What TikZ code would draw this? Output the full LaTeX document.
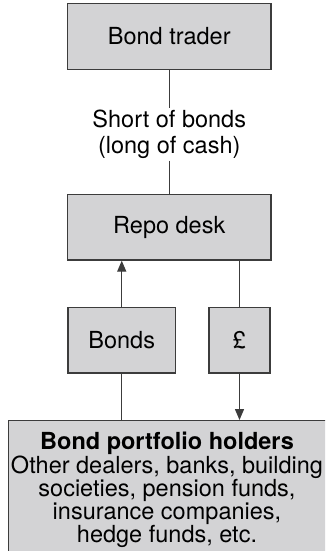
\documentclass[tikz,border=0pt]{standalone}
\usepackage{fontspec}
\setmainfont{TeX Gyre Heros}
\usetikzlibrary{arrows.meta}
\definecolor{boxfill}{HTML}{D3D3D5}
\definecolor{boxline}{HTML}{3C3C3C}
\begin{document}
\begin{tikzpicture}[x=1pt,y=-1pt,
  box/.style={draw=boxline, fill=boxfill, line width=1.3pt, inner sep=0pt,
    font=\fontsize{23.5}{25}\selectfont},
  lbl/.style={inner sep=0pt, align=center, font=\fontsize{23.5}{25.5}\selectfont},
  conn/.style={draw=boxline, line width=1.3pt},
  arr/.style={conn, -{Triangle[length=11pt,width=9pt]}},
]
\useasboundingbox (0,0) rectangle (325,551);
\clip (0,0) rectangle (325,551);
\node[box, minimum width=203.5pt, minimum height=66pt] (trader) at (169.25,36.5) {Bond trader};
\node[lbl, minimum height=52pt] (label) at (169.25,134.5) {Short of bonds\\(long of cash)};
\node[box, minimum width=203.5pt, minimum height=65.3pt] (repo) at (169.25,227.35) {Repo desk};
\node[box, minimum width=107.5pt, minimum height=65.5pt] (bonds) at (121.75,340.25) {Bonds};
\node[box, minimum width=61pt, minimum height=65.5pt] (pound) at (239.5,340.25) {£};
\node[box, anchor=north, minimum width=321pt, minimum height=160pt] (holders) at (169.25,420) {};
\node[anchor=north, inner sep=0pt, align=center, font=\fontsize{23.5}{21.7}\selectfont] (htext) at (167,432)
  {\textbf{Bond portfolio holders}\\Other dealers, banks, building\\societies, pension funds,\\insurance companies,\\hedge funds, etc.};
\draw[conn] (trader.south) -- (label.north);
\draw[conn] (label.south) -- (repo.north);
\draw[arr] (bonds.north) -- (bonds.north |- repo.south);
\draw[conn] (repo.south -| pound.north) -- (pound.north);
\draw[conn] (bonds.south) -- (bonds.south |- holders.north);
\draw[arr] (pound.south) -- (pound.south |- holders.north);
\end{tikzpicture}
\end{document}
